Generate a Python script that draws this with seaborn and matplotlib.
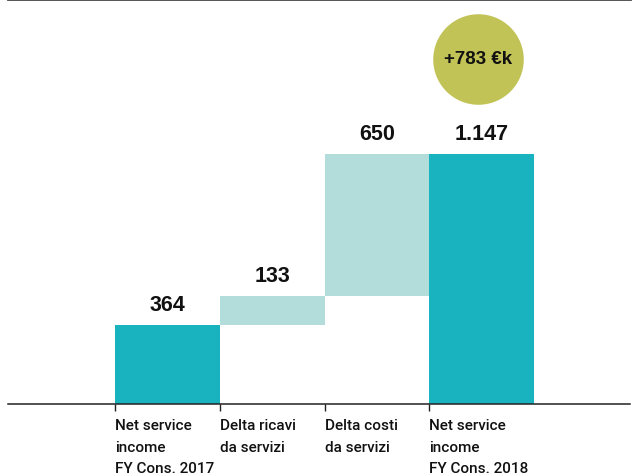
import matplotlib
matplotlib.use("Agg")
import matplotlib.pyplot as plt
import seaborn as sns
import pandas as pd
import numpy as np

categories = ["Net service\nincome\nFY Cons. 2017", "Delta ricavi\nda servizi",
              "Delta costi\nda servizi", "Net service\nincome\nFY Cons. 2018"]
heights = [364, 133, 650, 1147]
bottoms = [0, 364, 497, 0]
value_labels = ["364", "133", "650", "1.147"]
bar_colors = ["#19B3BF", "#B2DDDB", "#B2DDDB", "#19B3BF"]
delta_text = "+783 €k"

sns.set_theme(style="white")
plt.rcParams['font.family'] = ['Roboto', 'Liberation Sans', 'DejaVu Sans']

fig = plt.figure(figsize=(6.32, 4.77), dpi=100)
ax = fig.add_axes([8/632, 72/477, 622/632, 405/477])

df = pd.DataFrame({"cat": categories, "val": heights})
sns.barplot(data=df, x="cat", y="val", order=categories, width=1.0,
            bottom=bottoms, errorbar=None, color=bar_colors[0], ax=ax,
            linewidth=0, saturation=1)
for p, c in zip(ax.patches, bar_colors):
    p.set_facecolor(c)
    p.set_edgecolor("none")

ax.set_xlim(-1.526, 4.42)
ax.set_ylim(0, 1858)

for i, (h, b, lab) in enumerate(zip(heights, bottoms, value_labels)):
    ax.text(i, h + b + 45, lab, ha="center", va="bottom", fontsize=15.5,
            fontweight="bold", family=["Liberation Sans", "DejaVu Sans"], color="#111111")

# delta bubble
bx, by = 2.97, 1583
ax.scatter([bx], [by], s=4250, color="#C2C356", zorder=5, linewidths=0)
ax.text(bx, by, delta_text, ha="center", va="center", fontsize=13.5, fontweight="bold",
        family=["Liberation Sans", "DejaVu Sans"], color="#111111", zorder=6)

ax.set_xticks([-0.5, 0.5, 1.5, 2.5])
ax.set_xticklabels(categories, ha="left", fontsize=11, linespacing=1.7,
                   color="#111111", fontweight="medium", fontstretch="condensed")
ax.tick_params(axis="x", bottom=True, length=5, width=1, color="#222222", pad=5)
ax.set_yticks([])
ax.set_xlabel("")
ax.set_ylabel("")
for s in ["left", "right"]:
    ax.spines[s].set_visible(False)
ax.spines["bottom"].set_color("#222222")
ax.spines["bottom"].set_linewidth(1.1)
ax.spines["top"].set_color("#444444")
ax.spines["top"].set_linewidth(2.0)
ax.set_facecolor("white")

fig.savefig("out.png", dpi=100, facecolor="white")
